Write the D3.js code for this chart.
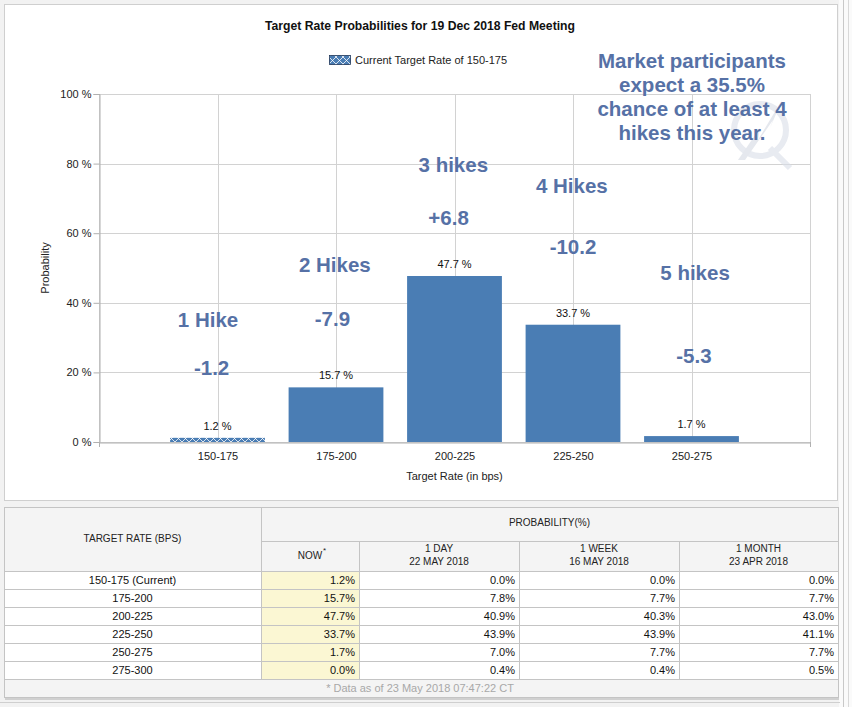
<!DOCTYPE html>
<html>
<head>
<meta charset="utf-8">
<script src="https://cdn.jsdelivr.net/npm/d3@7"></script>
<style>
  body { margin: 0; background: #f2f2f2; }
  svg { display: block; font-family: Arial, "Liberation Sans", sans-serif; }
</style>
</head>
<body>
<svg id="chart" width="852" height="707"></svg>
<script>
'use strict';

// chart data
const categories = ['150-175', '175-200', '200-225', '225-250', '250-275'];
const probNow = [1.2, 15.7, 47.7, 33.7, 1.7];
const yTicks = [0, 20, 40, 60, 80, 100];

// annotations typed onto the chart (category index, probability level)
const noteText = ['1 Hike', '-1.2', '2 Hikes', '-7.9', '3 hikes', '+6.8', '4 Hikes', '-10.2', '5 hikes', '-5.3'];
const noteCat  = [0.92, 0.95, 1.99, 1.97, 2.99, 2.95, 3.99, 4.0, 5.03, 5.02];
const noteLvl  = [35.1, 21.4, 50.9, 35.3, 79.6, 64.4, 73.6, 56.0, 48.6, 24.7];
const calloutLines = ['Market participants', 'expect a 35.5%', 'chance of at least 4', 'hikes this year.'];

// table data
const tableRates = ['150-175 (Current)', '175-200', '200-225', '225-250', '250-275', '275-300'];
const tableNow   = [1.2, 15.7, 47.7, 33.7, 1.7, 0.0];
const table1Day  = [0.0, 7.8, 40.9, 43.9, 7.0, 0.4];
const table1Week = [0.0, 7.7, 40.3, 43.9, 7.7, 0.4];
const table1Mon  = [0.0, 7.7, 43.0, 41.1, 7.7, 0.5];
const colHeads = [['NOW'], ['1 DAY', '22 MAY 2018'], ['1 WEEK', '16 MAY 2018'], ['1 MONTH', '23 APR 2018']];

const blue = '#4a7db4';
const noteColor = '#5671a6';
const svg = d3.select('#chart');

// page frame
svg.append('rect').attr('width', 852).attr('height', 707).attr('fill', '#f2f2f2');
svg.append('rect').attr('x', 839).attr('y', 0).attr('width', 13).attr('height', 707).attr('fill', '#fafafa');
svg.append('line').attr('x1', 843.5).attr('x2', 843.5).attr('y1', 0).attr('y2', 707).attr('stroke', '#c8c8c8');
svg.append('line').attr('x1', 848.5).attr('x2', 848.5).attr('y1', 0).attr('y2', 707).attr('stroke', '#d8d8d8');
svg.append('rect').attr('x', 4.5).attr('y', 4.5).attr('width', 833).attr('height', 496)
    .attr('fill', '#fff').attr('stroke', '#cfcfcf');

// hatch pattern for the current rate
const defs = svg.append('defs');
const pat = defs.append('pattern').attr('id', 'hatch')
    .attr('patternUnits', 'userSpaceOnUse').attr('width', 7).attr('height', 7)
    .attr('y', 442 % 7);
pat.append('rect').attr('width', 7).attr('height', 7).attr('fill', blue);
pat.append('path').attr('d', 'M0,0L7,7M7,0L0,7')
    .attr('stroke', '#fff').attr('stroke-width', 0.8);

const plotL = 99, plotR = 810, plotT = 94, plotB = 442;
const x = d3.scaleLinear().domain([0, categories.length + 1]).range([plotL, plotR]);
const y = d3.scaleLinear().domain([0, 100]).range([plotB, plotT]);
const step = x(1) - x(0);

// title and legend
svg.append('text').attr('x', 420).attr('y', 30).attr('text-anchor', 'middle')
    .attr('font-size', 12.2).attr('font-weight', 'bold').attr('fill', '#111')
    .text('Target Rate Probabilities for 19 Dec 2018 Fed Meeting');
svg.append('rect').attr('x', 329.5).attr('y', 55.5).attr('width', 21).attr('height', 9)
    .attr('fill', 'url(#hatch)').attr('stroke', '#1d3557').attr('stroke-width', 0.8);
svg.append('text').attr('x', 355).attr('y', 64).attr('font-size', 11).attr('fill', '#222')
    .text('Current Target Rate of 150-175');

// grid
const grid = svg.append('g');
grid.selectAll('.hg').data(yTicks).join('line')
    .attr('x1', plotL).attr('x2', plotR)
    .attr('y1', d => Math.round(y(d)) + 0.5).attr('y2', d => Math.round(y(d)) + 0.5)
    .attr('stroke', '#d2d2d2');
grid.selectAll('.vg').data(d3.range(categories.length + 2)).join('line')
    .attr('x1', d => Math.round(x(d)) + 0.5).attr('x2', d => Math.round(x(d)) + 0.5)
    .attr('y1', plotT).attr('y2', plotB)
    .attr('stroke', '#d2d2d2');

// y axis
const yAxis = svg.append('g').attr('transform', `translate(${plotL + 0.5},0)`)
    .call(d3.axisLeft(y).tickValues(yTicks).tickSize(6).tickPadding(2).tickFormat(d => d + ' %'));
yAxis.select('.domain').attr('stroke', '#b0b0b0');
yAxis.selectAll('.tick line').attr('stroke', '#b0b0b0');
yAxis.selectAll('.tick text').attr('font-size', 11).attr('fill', '#222').attr('font-family', null);

// x axis
const xAxis = svg.append('g').attr('transform', `translate(0,${plotB + 0.5})`)
    .call(d3.axisBottom(x).tickValues(d3.range(1, categories.length + 1)).tickSize(0).tickPadding(10)
        .tickFormat(d => categories[d - 1]));
xAxis.select('.domain').attr('stroke', '#b0b0b0');
xAxis.selectAll('.tick text').attr('font-size', 11).attr('fill', '#222').attr('font-family', null);
svg.selectAll('.endtick').data([0, categories.length + 1]).join('line')
    .attr('x1', d => Math.round(x(d)) + 0.5).attr('x2', d => Math.round(x(d)) + 0.5)
    .attr('y1', plotB).attr('y2', plotB + 5).attr('stroke', '#b0b0b0');

svg.append('text').attr('x', (plotL + plotR) / 2).attr('y', 480).attr('text-anchor', 'middle')
    .attr('font-size', 11).attr('fill', '#222').text('Target Rate (in bps)');
svg.append('text').attr('transform', `translate(49,${(plotT + plotB) / 2}) rotate(-90)`)
    .attr('text-anchor', 'middle').attr('font-size', 11).attr('fill', '#222').text('Probability');

// watermark
const wm = svg.append('g').attr('opacity', 0.6);
wm.append('circle').attr('cx', 760).attr('cy', 130).attr('r', 26)
    .attr('fill', 'none').attr('stroke', '#d9dee8').attr('stroke-width', 6);
wm.append('path').attr('d', 'M738,160L760,128L758,140L782,100L770,128L773,120L745,160Z').attr('fill', '#d4d9e3');
wm.append('path').attr('d', 'M770,148L790,168').attr('stroke', '#d9dee8').attr('stroke-width', 6);

// bars
const bw = step * 0.8;
svg.selectAll('.bar').data(probNow).join('rect')
    .attr('x', (d, i) => x(i + 1) - bw / 2)
    .attr('width', bw)
    .attr('y', d => y(d))
    .attr('height', d => plotB - y(d))
    .attr('fill', (d, i) => i === 0 ? 'url(#hatch)' : blue);
svg.selectAll('.lbl').data(probNow).join('text')
    .attr('x', (d, i) => x(i + 1))
    .attr('y', d => y(d) - 8)
    .attr('text-anchor', 'middle').attr('font-size', 11).attr('fill', '#111')
    .text(d => d.toFixed(1) + ' %');

// annotations
svg.selectAll('.note').data(noteText).join('text')
    .attr('x', (d, i) => x(noteCat[i]))
    .attr('y', (d, i) => y(noteLvl[i]) + 7)
    .attr('text-anchor', 'middle').attr('font-size', 20.5).attr('font-weight', 'bold')
    .attr('fill', noteColor).text(d => d);
svg.selectAll('.callout').data(calloutLines).join('text')
    .attr('x', 692).attr('y', (d, i) => 68 + i * 24)
    .attr('text-anchor', 'middle').attr('font-size', 20.5).attr('font-weight', 'bold')
    .attr('fill', noteColor).text(d => d);

// table
const tx = [4, 261, 359, 519, 679, 838];
const tTop = 507, headMid = 541, headBot = 571, rowH = 18;
const tBot = headBot + rowH * (tableRates.length + 1);
const tbl = svg.append('g');
tbl.append('rect').attr('x', 5).attr('y', tBot + 1).attr('width', tx[5] - tx[0]).attr('height', 2).attr('fill', '#d0d0d0');
tbl.append('rect').attr('x', tx[0] + 0.5).attr('y', tTop + 0.5).attr('width', tx[5] - tx[0]).attr('height', tBot - tTop)
    .attr('fill', '#f4f4f4').attr('stroke', '#c4c4c4');

const cols = [tableNow, table1Day, table1Week, table1Mon];
const rows = tbl.selectAll('.row').data(tableRates).join('g')
    .attr('transform', (d, i) => `translate(0,${headBot + i * rowH})`);
rows.append('rect').attr('x', tx[0] + 1).attr('width', tx[5] - tx[0] - 1).attr('height', rowH).attr('fill', '#fff');
rows.append('rect').attr('x', tx[1]).attr('width', tx[2] - tx[1]).attr('height', rowH).attr('fill', '#fbf7d3');
rows.append('text').attr('x', (tx[0] + tx[1]) / 2).attr('y', 13).attr('text-anchor', 'middle')
    .attr('font-size', 11).attr('fill', '#111').text(d => d);
cols.forEach((vals, c) => {
    rows.append('text').attr('x', tx[c + 2] - 4).attr('y', 13).attr('text-anchor', 'end')
        .attr('font-size', 11).attr('fill', '#111').text((d, i) => vals[i].toFixed(1) + '%');
});

// table rules
const rule = '#c4c4c4';
tbl.selectAll('.hr').data(d3.range(tableRates.length + 1)).join('line')
    .attr('x1', tx[0]).attr('x2', tx[5])
    .attr('y1', d => headBot + d * rowH + 0.5).attr('y2', d => headBot + d * rowH + 0.5)
    .attr('stroke', rule);
tbl.append('line').attr('x1', tx[1]).attr('x2', tx[5]).attr('y1', headMid + 0.5).attr('y2', headMid + 0.5).attr('stroke', rule);
tbl.append('line').attr('x1', tx[1] + 0.5).attr('x2', tx[1] + 0.5).attr('y1', tTop).attr('y2', headBot + rowH * tableRates.length).attr('stroke', rule);
tbl.selectAll('.vr').data(tx.slice(2, 5)).join('line')
    .attr('x1', d => d + 0.5).attr('x2', d => d + 0.5)
    .attr('y1', headMid).attr('y2', headBot + rowH * tableRates.length).attr('stroke', rule);

// table headers
tbl.append('text').attr('x', (tx[0] + tx[1]) / 2).attr('y', 542).attr('text-anchor', 'middle')
    .attr('font-size', 10).attr('fill', '#222').text('TARGET RATE (BPS)');
tbl.append('text').attr('x', (tx[1] + tx[5]) / 2).attr('y', 526).attr('text-anchor', 'middle')
    .attr('font-size', 10).attr('fill', '#222').text('PROBABILITY(%)');
colHeads.forEach((lines, c) => {
    const cx = (tx[c + 1] + tx[c + 2]) / 2;
    const t = tbl.append('text').attr('text-anchor', 'middle').attr('font-size', 10).attr('fill', '#222');
    if (lines.length === 1) {
        t.attr('x', cx).attr('y', 559).text(lines[0]);
        tbl.append('text').attr('x', cx + 13).attr('y', 553).attr('font-size', 8).attr('fill', '#222').text('*');
    } else {
        lines.forEach((l, k) => t.append('tspan').attr('x', cx).attr('y', 552 + k * 13).text(l));
    }
});
tbl.append('text').attr('x', 420).attr('y', tBot - 5).attr('text-anchor', 'middle')
    .attr('font-size', 11).attr('fill', '#a8a8a8').text('* Data as of 23 May 2018 07:47:22 CT');
svg.append('line').attr('x1', 0).attr('x2', 840).attr('y1', 702.5).attr('y2', 702.5).attr('stroke', '#cfcfcf');
</script>
</body>
</html>
